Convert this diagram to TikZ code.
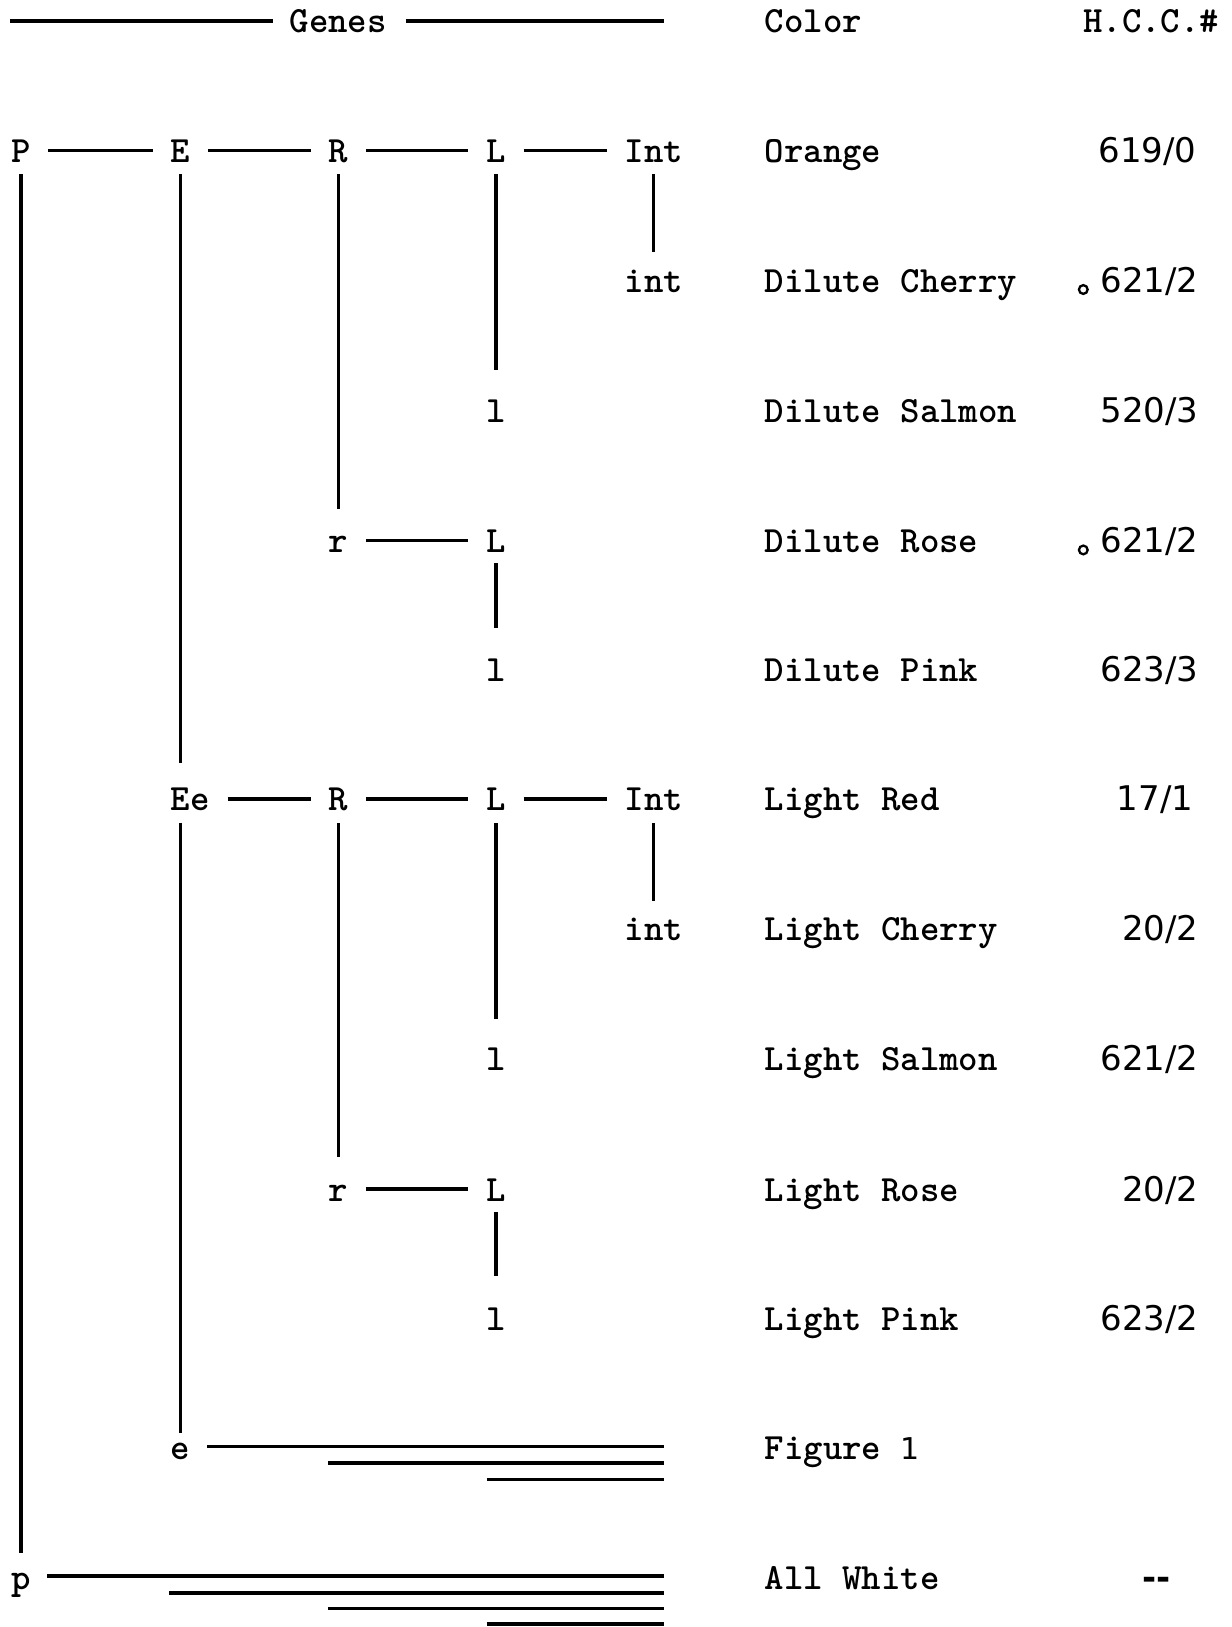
\documentclass[tikz,border=0pt]{standalone}
\usepackage{fontspec}
\newfontfamily\numfont{DejaVu Sans}
\begin{document}
\begin{tikzpicture}[x=1.0379pt,y=-1.0379pt,
  every node/.style={inner sep=0pt, outer sep=0pt, text height=24pt, text depth=0pt},
  tw/.style={font=\fontsize{37}{40}\selectfont\ttfamily\bfseries},
  gene/.style={tw},
  colour/.style={tw, anchor=west},
  hcc/.style={font=\fontsize{34}{36}\selectfont\numfont, anchor=east},
  link/.style={line width=3.5pt, shorten <=18pt, shorten >=18pt},
  vlink/.style={line width=3.5pt},
  bar/.style={line width=3.5pt}
]
\useasboundingbox (0,0) rectangle (1187,1568);

% header
\node[tw] (genes) at (326,20) {Genes};
\coordinate (hl) at (10,20);
\coordinate (hr) at (640,20);
\draw[bar, shorten >=17pt] (hl) -- (genes.west);
\draw[bar, shorten <=19pt] (genes.east) -- (hr);
\node[colour] (colhead) at (737,20) {Color};
\node[tw, anchor=east] (hcchead) at (1175,20) {H.C.C.\#};

% gene nodes
\node[gene] (P) at (20,145) {P};
\node[gene] (E) at (174,145) {E};
\node[gene] (R1) at (326,145) {R};
\node[gene] (L1) at (478,145) {L};
\node[gene] (I1) at (630,145) {Int};
\node[gene] (i1) at (630,270) {int};
\node[gene] (l1) at (478,396) {l};
\node[gene] (r1) at (326,521) {r};
\node[gene] (L2) at (478,521) {L};
\node[gene] (l2) at (478,645) {l};
\node[gene, anchor=west] (Ee) at (164.6,770) {Ee};
\node[gene] (R2) at (326,770) {R};
\node[gene] (L3) at (478,770) {L};
\node[gene] (I2) at (630,770) {Int};
\node[gene] (i2) at (630,895) {int};
\node[gene] (l3) at (478,1020) {l};
\node[gene] (r2) at (326,1146) {r};
\node[gene] (L4) at (478,1146) {L};
\node[gene] (l4) at (478,1271) {l};
\node[gene] (e) at (174,1395) {e};
\node[gene] (p) at (20,1520) {p};

% horizontal links
\draw[link] (P.east) -- (E.west);
\draw[link] (E.east) -- (R1.west);
\draw[link] (R1.east) -- (L1.west);
\draw[link] (L1.east) -- (I1.west);
\draw[link] (r1.east) -- (L2.west);
\draw[link] (Ee.east) -- (R2.west);
\draw[link] (R2.east) -- (L3.west);
\draw[link] (L3.east) -- (I2.west);
\draw[link] (r2.east) -- (L4.west);

% vertical links
\draw[vlink, shorten <=11.8pt, shorten >=11.8pt] (P.south) -- (p.north);
\draw[vlink, shorten <=11.8pt, shorten >=24.3pt] (E.south) -- (E.south |- Ee.north);
\draw[vlink, shorten <=11.8pt, shorten >=16pt] (I1.south) -- (i1.north);
\draw[vlink, shorten <=11.8pt, shorten >=28.5pt] (L1.south) -- (l1.north);
\draw[vlink, shorten <=11.8pt, shorten >=20pt] (R1.south) -- (r1.north);
\draw[vlink, shorten <=10.8pt, shorten >=29.5pt] (L2.south) -- (l2.north);
\draw[vlink, shorten <=11.8pt, shorten >=3pt] (e.north |- Ee.south) -- (e.north);
\draw[vlink, shorten <=11.8pt, shorten >=20pt] (R2.south) -- (r2.north);
\draw[vlink, shorten <=11.8pt, shorten >=27.5pt] (L3.south) -- (l3.north);
\draw[vlink, shorten <=11.8pt, shorten >=16pt] (I2.south) -- (i2.north);
\draw[vlink, shorten <=10.8pt, shorten >=30.5pt] (L4.south) -- (l4.north);

% e bars
\coordinate (eend) at (640,1394);
\draw[bar, shorten <=17pt] (e.east |- eend) -- (eend);
\draw[bar] (316,1410) -- (640,1410);
\draw[bar] (469,1426) -- (640,1426);

% p bars
\coordinate (pend) at (640,1519);
\draw[bar, shorten <=17pt] (p.east |- pend) -- (pend);
\draw[bar] (163,1535) -- (640,1535);
\draw[bar] (316,1550) -- (640,1550);
\draw[bar] (469,1565) -- (640,1565);

% colour names
\node[colour] (c1) at (737,145) {Orange};
\node[colour] (c2) at (737,270) {Dilute Cherry};
\node[colour] (c3) at (737,396) {Dilute Salmon};
\node[colour] (c4) at (737,521) {Dilute Rose};
\node[colour] (c5) at (737,645) {Dilute Pink};
\node[colour] (c6) at (737,770) {Light Red};
\node[colour] (c7) at (737,895) {Light Cherry};
\node[colour] (c8) at (737,1020) {Light Salmon};
\node[colour] (c9) at (737,1146) {Light Rose};
\node[colour] (c10) at (737,1271) {Light Pink};
\node[colour] (c11) at (737,1395) {Figure {\mdseries\fontsize{30}{32}\selectfont\numfont 1}};
\node[colour] (c12) at (737,1520) {All White};

% H.C.C. numbers
\node[hcc] (h1) at (1153,145) {619/0};
\node[hcc] (h2) at (1155,270) {621/2};
\node[hcc] (h3) at (1155,396) {520/3};
\node[hcc] (h4) at (1155,521) {621/2};
\node[hcc] (h5) at (1155,645) {623/3};
\node[hcc] (h6) at (1150,770) {17/1};
\node[hcc] (h7) at (1155,895) {20/2};
\node[hcc] (h8) at (1155,1020) {621/2};
\node[hcc] (h9) at (1155,1146) {20/2};
\node[hcc] (h10) at (1155,1271) {623/2};
\node[hcc, font=\fontsize{34}{36}\selectfont\numfont\bfseries, anchor=center] (h12) at (1115,1520) {-{}-};

\draw[line width=2.3pt] (1044,279) circle[radius=4.2];
\draw[line width=2.3pt] (1044,530) circle[radius=4.2];
\end{tikzpicture}
\end{document}
